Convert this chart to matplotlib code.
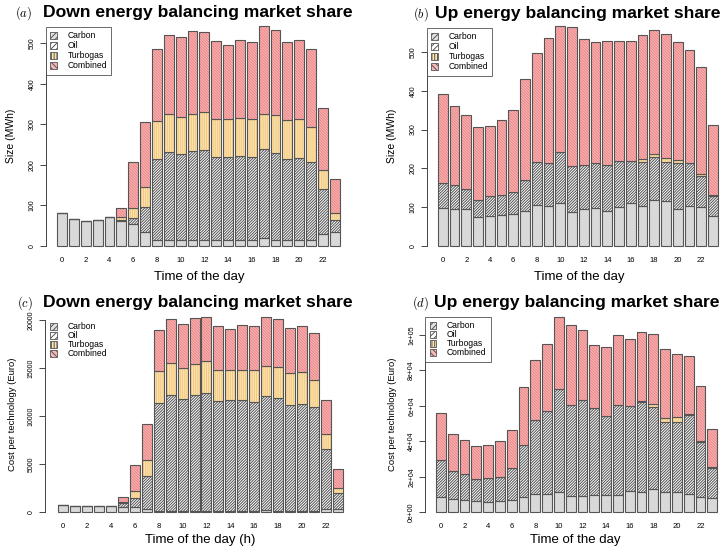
import matplotlib
matplotlib.use("Agg")
import matplotlib.pyplot as plt
from matplotlib.patches import Patch
import numpy as np

plt.rcParams['font.family'] = ['Liberation Sans', 'DejaVu Sans']
plt.rcParams['mathtext.fontset'] = 'cm'
plt.rcParams['hatch.linewidth'] = 0.7

hours = list(range(24))
tech_names = ["Carbon", "Oil", "Turbogas", "Combined"]

# (a) down energy, size in MWh
down_size_carbon = [80, 67, 61, 64, 70, 60, 53, 35, 13, 15, 13, 15, 15, 15, 15, 15, 15, 18, 15, 13, 13, 13, 30, 35]
down_size_oil = [0, 0, 0, 0, 0, 4, 15, 60, 200, 217, 214, 218, 221, 205, 205, 207, 205, 220, 214, 202, 203, 195, 111, 28]
down_size_turbo = [0, 0, 0, 0, 0, 6, 24, 51, 95, 94, 92, 93, 95, 92, 93, 94, 94, 87, 95, 96, 96, 84, 47, 19]
down_size_comb = [0, 0, 0, 0, 0, 24, 114, 160, 177, 194, 196, 204, 197, 194, 182, 191, 188, 217, 208, 193, 197, 194, 151, 82]

# (b) up energy, size in MWh
up_size_carbon = [98, 95, 95, 73, 78, 80, 82, 89, 105, 103, 111, 88, 95, 97, 90, 100, 110, 103, 118, 115, 95, 103, 100, 77]
up_size_oil = [65, 62, 52, 45, 50, 51, 58, 80, 112, 110, 130, 117, 113, 117, 118, 118, 110, 113, 110, 102, 118, 110, 81, 52]
up_size_turbo = [0, 0, 0, 0, 0, 0, 0, 0, 0, 0, 0, 0, 0, 0, 0, 0, 0, 9, 8, 10, 8, 2, 5, 2]
up_size_comb = [228, 204, 191, 190, 181, 195, 210, 262, 280, 324, 326, 360, 326, 313, 321, 311, 309, 320, 322, 321, 306, 291, 276, 181]

# (c) down energy, cost in Euro
down_cost_carbon = [800, 650, 620, 620, 680, 600, 500, 300, 100, 100, 100, 100, 150, 150, 100, 100, 100, 200, 150, 100, 100, 100, 300, 300]
down_cost_oil = [0, 0, 0, 0, 0, 350, 950, 3450, 11250, 12150, 11700, 12050, 12250, 11400, 11550, 11600, 11400, 11900, 11700, 11050, 11200, 10900, 6250, 1700]
down_cost_turbo = [0, 0, 0, 0, 0, 150, 750, 1650, 3350, 3300, 3200, 3250, 3300, 3200, 3150, 3150, 3350, 3100, 3250, 3350, 3300, 2800, 1550, 500]
down_cost_comb = [0, 0, 0, 0, 0, 450, 2700, 3800, 4250, 4550, 4600, 4800, 4600, 4650, 4300, 4650, 4550, 5100, 5000, 4700, 4800, 4800, 3600, 2000]

# (d) up energy, cost in Euro
up_cost_carbon = [8500, 7300, 7200, 6100, 5700, 6600, 7200, 8900, 10500, 10500, 11700, 9000, 9000, 9500, 10000, 10000, 12200, 11200, 13000, 11200, 11200, 10500, 8500, 7800]
up_cost_oil = [21200, 16000, 14300, 12400, 13500, 13400, 17600, 29100, 41500, 46800, 58000, 51500, 54500, 49200, 44500, 50300, 47800, 50800, 46500, 39800, 39800, 44500, 31000, 17200]
up_cost_turbo = [0, 0, 0, 0, 0, 0, 0, 0, 0, 0, 0, 0, 0, 0, 0, 0, 0, 1000, 1500, 2300, 2800, 300, 500, 300]
up_cost_comb = [26000, 21000, 19500, 18700, 18500, 20400, 21600, 32500, 33600, 37700, 40300, 44900, 39100, 35300, 38800, 39600, 37600, 38500, 39300, 38500, 35200, 32600, 31000, 21500]

up_cost_ticks = [0, 20000, 40000, 60000, 80000, 100000]
up_cost_ticklabels = ["0e+00", "2e+04", "4e+04", "6e+04", "8e+04", "1e+05"]

# fill colour, hatch colour, hatch pattern
styles = [
	("#e2e2e2", "#d0d0d0", "/" * 12),
	("#ffffff", "#505050", "/" * 12),
	("#fee6b0", "#f2c883", "|" * 9),
	("#f9b8b8", "#ec8585", "\\" * 12),
]
outline = "#555555"


def px_box(left, right, top, bottom):
	W, H = 723.0, 548.0
	return [left / W, 1 - bottom / H, (right - left) / W, (bottom - top) / H]


def draw_panel(fig, box, xlim, series, yticks, yticklabels, ylabel, ylab_size, ylab_pad,
			   legend_pos, legend_frame, legend_spacing):
	ax = fig.add_axes(box)
	totals = np.sum(np.array(series), axis=0)
	top = totals.max()
	bottom = np.zeros(len(hours))
	for vals, (face, hcol, hatch) in zip(series, styles):
		vals = np.array(vals, dtype=float)
		ax.bar(hours, vals, width=0.833, bottom=bottom, color=face, edgecolor=hcol,
			   hatch=hatch, linewidth=0)
		ax.bar(hours, vals, width=0.833, bottom=bottom, fill=False, edgecolor=outline,
			   linewidth=0.8)
		bottom = bottom + vals
	#end_for

	ax.set_xlim(xlim)
	ax.set_ylim(-0.04 * top, 1.04 * top)
	for s in ["top", "right", "bottom"]:
		ax.spines[s].set_visible(False)
	ax.spines["left"].set_bounds(yticks[0], yticks[-1])
	ax.spines["left"].set_color("#444444")
	ax.spines["left"].set_linewidth(0.7)

	ax.set_xticks(hours[::2])
	ax.set_xticklabels([str(h) for h in hours[::2]], fontsize=5.5)
	ax.tick_params(axis="x", length=0, pad=2)
	ax.set_yticks(yticks)
	ax.set_yticklabels(yticklabels, fontsize=5, rotation=90, va="center")
	ax.tick_params(axis="y", length=4.3, width=0.7, color="#444444", pad=3)
	ax.set_ylabel(ylabel, fontsize=ylab_size, labelpad=ylab_pad)

	handles = [Patch(facecolor=f, edgecolor=outline, hatch=h[:6], linewidth=0.6)
			   for (f, c, h) in styles]
	leg = ax.legend(handles, tech_names, loc="upper left", fontsize=6.2,
					bbox_to_anchor=legend_pos, bbox_transform=fig.transFigure,
					frameon=legend_frame, fancybox=False, borderaxespad=0,
					handlelength=0.8, handleheight=0.8, handletextpad=1.2,
					labelspacing=legend_spacing, borderpad=0.5)
	leg.get_frame().set_edgecolor("#444444")
	leg.get_frame().set_linewidth(0.7)
	return ax

#end_def


def main():

	fig = plt.figure(figsize=(7.23, 5.48), dpi=100)

	draw_panel(fig, px_box(46, 350.8, 17.5, 254.5), (-1.35, 24.35),
		[down_size_carbon, down_size_oil, down_size_turbo, down_size_comb],
		[0, 100, 200, 300, 400, 500], ["0", "100", "200", "300", "400", "500"],
		"Size (MWh)", 7.5, 9, (46 / 723, 1 - 27 / 548), True, 0.12)
	draw_panel(fig, px_box(427, 728.7, 17.5, 254.5), (-1.34, 24.34),
		[up_size_carbon, up_size_oil, up_size_turbo, up_size_comb],
		[0, 100, 200, 300, 400, 500], ["0", "100", "200", "300", "400", "500"],
		"Size (MWh)", 7.5, 9, (427 / 723, 1 - 28 / 548), True, 0.12)
	draw_panel(fig, px_box(45, 356, 309.3, 520.1), (-1.53, 24.53),
		[down_cost_carbon, down_cost_oil, down_cost_turbo, down_cost_comb],
		[0, 5000, 10000, 15000, 20000], ["0", "5000", "10000", "15000", "20000"],
		"Cost per technology (Euro)", 6.8, 8, (46 / 723, 1 - 318 / 548), False, 0.0)
	draw_panel(fig, px_box(425.3, 727.9, 309.3, 520.1), (-1.33, 24.33),
		[up_cost_carbon, up_cost_oil, up_cost_turbo, up_cost_comb],
		up_cost_ticks, up_cost_ticklabels,
		"Cost per technology (Euro)", 6.8, 8, (425.3 / 723, 1 - 317 / 548), True, 0.0)

	# x labels
	fig.text(199.5 / 723, 1 - 277 / 548, "Time of the day", fontsize=9.5, ha="center", va="center")
	fig.text(579 / 723, 1 - 277 / 548, "Time of the day", fontsize=9.5, ha="center", va="center")
	fig.text(200 / 723, 1 - 539.7 / 548, "Time of the day (h)", fontsize=9.5, ha="center", va="center")
	fig.text(575 / 723, 1 - 539.7 / 548, "Time of the day", fontsize=9.5, ha="center", va="center")

	# titles
	titles = [
		(15, 17, 43, "$(a)$", "Down energy balancing market share"),
		(413, 18, 435, "$(b)$", "Up energy balancing market share"),
		(17, 306.5, 43, "$(c)$", "Down energy balancing market share"),
		(412, 306.5, 434, "$(d)$", "Up energy balancing market share"),
	]
	for (lx, by, tx, lab, title) in titles:
		fig.text(lx / 723, 1 - by / 548, lab, fontsize=9, ha="left", va="baseline")
		fig.text(tx / 723, 1 - by / 548, title, fontsize=12.6, fontweight="bold",
				 ha="left", va="baseline")
	#end_for

	fig.savefig("out.png", dpi=100)

#end_def


main()
